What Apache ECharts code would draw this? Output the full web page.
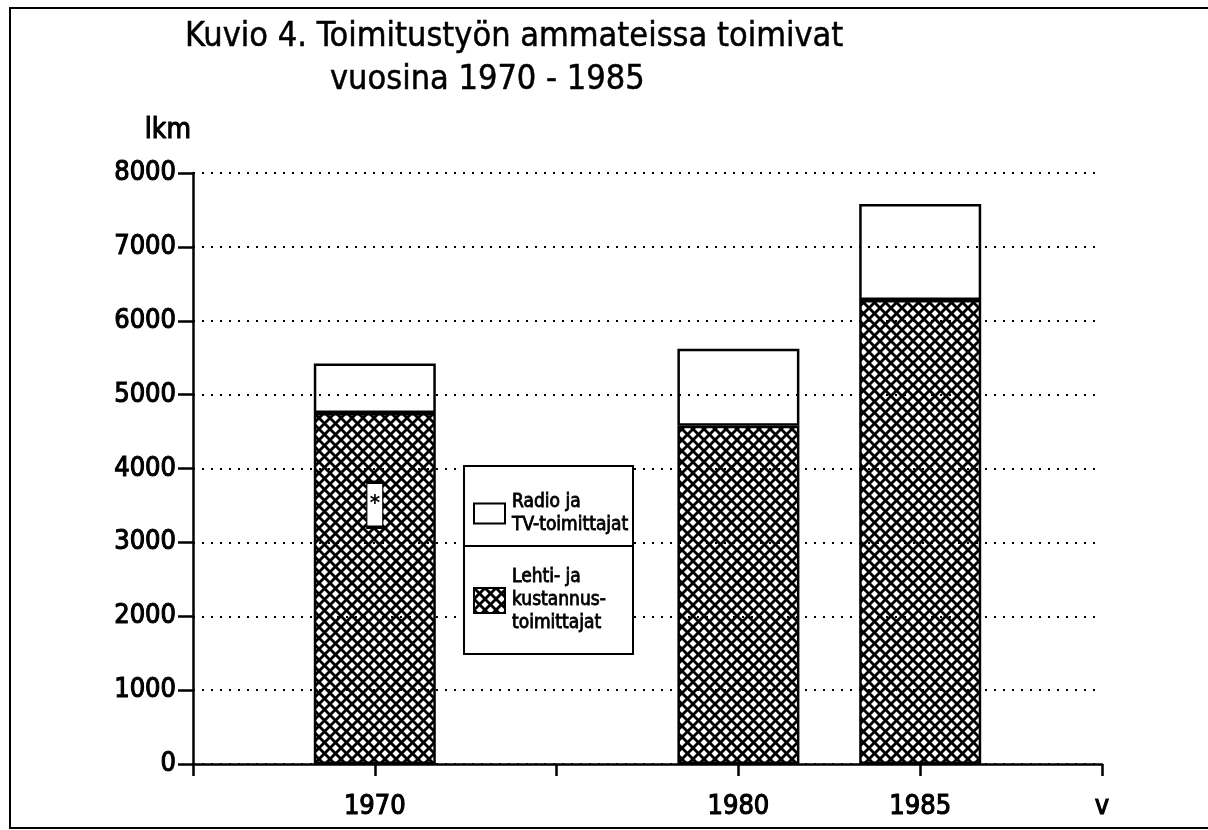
<!DOCTYPE html>
<html><head><meta charset="utf-8">
<script src="https://cdn.jsdelivr.net/npm/echarts@6/dist/echarts.min.js"></script>
<style>html,body{margin:0;padding:0;background:#fff}#c{width:1208px;height:830px}</style>
</head><body><div id="c"></div>
<script>
// ---- data ----
const years = [1970, 1980, 1985];
const lehtiValues = [4750, 4580, 6280];   // Lehti- ja kustannustoimittajat
const radioValues = [670, 1040, 1300];    // Radio ja TV-toimittajat
const seriesNames = ['Radio ja\nTV-toimittajat', 'Lehti- ja\nkustannus-\ntoimittajat'];
const axisFirstYear = 1965, axisLastYear = 1990;
const xTickLabels = {1970: '1970', 1980: '1980', 1985: '1985', 1990: 'v'};
const titleLines = ['Kuvio 4. Toimitustyön ammateissa toimivat', 'vuosina 1970 - 1985'];
const yAxisName = 'lkm';
const noteMark = {year: 1970, value: 3510, text: '*'};

// category list of years along the axis (one per year)
const axisYears = [];
for (let y = axisFirstYear; y <= axisLastYear; y++) axisYears.push(String(y));
const onAxis = vals => axisYears.map(y => {
  const i = years.indexOf(Number(y));
  return i >= 0 ? vals[i] : null;
});

const FONT = '"DejaVu Sans Condensed","Liberation Sans Narrow","Liberation Sans",sans-serif';
const heavy = {fontFamily: FONT, fontWeight: 'normal', color: '#000', textBorderColor: '#000', textBorderWidth: 1.1};

function hatchCanvas() {
  const s = 11, c = document.createElement('canvas');
  c.width = s; c.height = s;
  const g = c.getContext('2d');
  g.strokeStyle = '#000'; g.lineWidth = 2.8;
  for (const k of [-s, 0, s]) {
    g.beginPath(); g.moveTo(k - 2, -2); g.lineTo(k + s + 2, s + 2); g.stroke();
  }
  for (const k of [0, s, 2 * s]) {
    g.beginPath(); g.moveTo(k + 2, -2); g.lineTo(k - s - 2, s + 2); g.stroke();
  }
  return c;
}
const hatch = {image: hatchCanvas(), repeat: 'repeat'};

const chart = echarts.init(document.getElementById('c'), null, {renderer: 'canvas'});
const legendText = Object.assign({}, heavy, {fontSize: 19, lineHeight: 23, textBorderWidth: 0.8});
const everyFifth = (idx) => (Number(axisYears[idx]) - axisFirstYear) % 5 === 0;

chart.setOption({
  backgroundColor: '#fff',
  animation: false,
  title: [
    {text: titleLines[0], left: 180, top: 15, textStyle: {fontFamily: FONT, fontWeight: 'normal', fontSize: 34, color: '#000', textBorderColor: '#000', textBorderWidth: 0.5}},
    {text: titleLines[1], left: 325, top: 58, textStyle: {fontFamily: FONT, fontWeight: 'normal', fontSize: 34, color: '#000', textBorderColor: '#000', textBorderWidth: 0.5}}
  ],
  legend: [
    {data: [seriesNames[0]], left: 473, top: 487, orient: 'vertical', padding: 0, z: 10,
     itemWidth: 31, itemHeight: 20, icon: 'rect', selectedMode: false,
     textStyle: Object.assign({padding: [0, 0, 7, 2]}, legendText)},
    {data: [seriesNames[1]], left: 473, top: 563, orient: 'vertical', padding: 0, z: 10,
     itemWidth: 31, itemHeight: 25, icon: 'rect', selectedMode: false,
     textStyle: Object.assign({padding: [6, 0, 0, 2]}, legendText)}
  ],
  grid: {left: 193, right: 106, top: 173, bottom: 66, containLabel: false},
  xAxis: {
    type: 'category', data: axisYears, boundaryGap: false,
    axisLine: {show: true, onZero: false, lineStyle: {color: '#000', width: 2.5}},
    axisTick: {show: true, length: 12, interval: everyFifth, lineStyle: {color: '#000', width: 2.5}},
    splitLine: {show: false},
    axisLabel: Object.assign({margin: 29, interval: everyFifth, fontSize: 27,
      formatter: v => xTickLabels[v] || ''}, heavy)
  },
  yAxis: {
    type: 'value', min: 0, max: 8000, interval: 1000,
    name: yAxisName, nameLocation: 'end', nameGap: 28,
    nameTextStyle: Object.assign({fontSize: 28, align: 'right', padding: [0, 2, 0, 0]}, heavy),
    axisLine: {show: true, lineStyle: {color: '#000', width: 2.5}},
    axisTick: {show: true, length: 15, lineStyle: {color: '#000', width: 2.5}},
    axisLabel: Object.assign({margin: 17, fontSize: 27, formatter: v => String(v)}, heavy),
    splitLine: {show: true, lineStyle: {color: '#000', width: 2, type: [2, 7]}}
  },
  graphic: [
    {type: 'rect', shape: {x: 10, y: 8, width: 1200, height: 820}, style: {fill: null, stroke: '#000', lineWidth: 2}, silent: true, z: 1},
    {type: 'rect', shape: {x: 464, y: 466, width: 169, height: 188}, style: {fill: '#fff', stroke: '#000', lineWidth: 2}, silent: true, z: 1},
    {type: 'line', shape: {x1: 464, y1: 546, x2: 633, y2: 546}, style: {stroke: '#000', lineWidth: 2}, silent: true, z: 1}
  ],
  series: [
    {
      name: seriesNames[1], type: 'bar', stack: 'total', barWidth: 122,
      data: onAxis(lehtiValues),
      itemStyle: {color: hatch, borderColor: '#000', borderWidth: 2.5},
      markPoint: {
        silent: true, symbol: 'rect', symbolSize: [16, 45],
        itemStyle: {color: '#fff', borderColor: '#000', borderWidth: 2},
        label: {show: true, position: 'inside', fontSize: 22, fontWeight: 'bold', color: '#000', fontFamily: FONT,
                formatter: p => p.name},
        data: [{coord: [String(noteMark.year), noteMark.value], name: noteMark.text}]
      }
    },
    {
      name: seriesNames[0], type: 'bar', stack: 'total', barWidth: 122,
      data: onAxis(radioValues),
      itemStyle: {color: 'rgba(255,255,255,0)', borderColor: '#000', borderWidth: 2.5}
    }
  ]
});
</script>
</body></html>
